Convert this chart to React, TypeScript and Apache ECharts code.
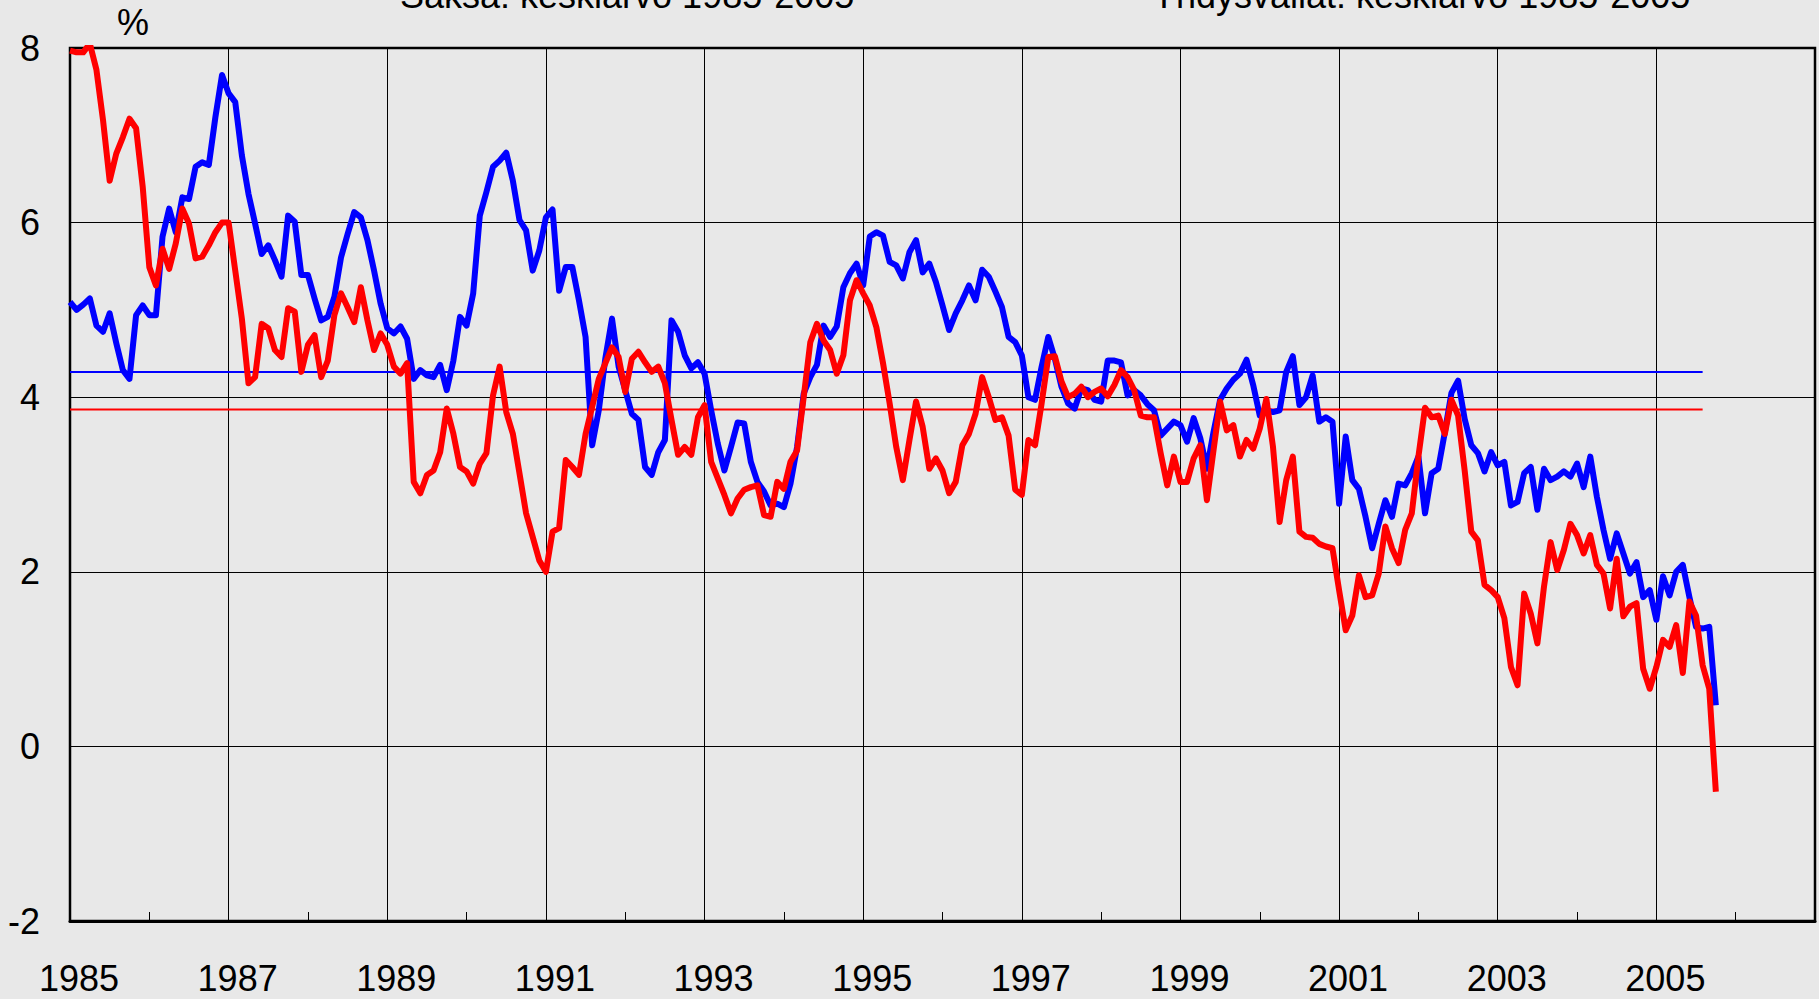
import React, { useEffect, useRef } from "react";
import * as echarts from "echarts";

// Monthly values, January 1985 = index 0
const startYear = 1985;
const germany = [
  5.09, 5.0, 5.06, 5.13, 4.82, 4.75, 4.96, 4.62, 4.31, 4.21, 4.94, 5.05,
  4.94, 4.94, 5.84, 6.16, 5.89, 6.29, 6.27, 6.64, 6.69, 6.66, 7.21, 7.69,
  7.48, 7.38, 6.77, 6.33, 5.99, 5.64, 5.74, 5.57, 5.38, 6.08, 6.01, 5.4,
  5.4, 5.13, 4.88, 4.92, 5.15, 5.6, 5.87, 6.12, 6.06, 5.8, 5.45, 5.07,
  4.79, 4.73, 4.81, 4.67, 4.21, 4.31, 4.25, 4.23, 4.37, 4.08, 4.42, 4.92,
  4.82, 5.19, 6.08, 6.35, 6.64, 6.71, 6.8, 6.48, 6.03, 5.91, 5.45, 5.68,
  6.06, 6.15, 5.22, 5.49, 5.49, 5.11, 4.69, 3.45, 3.85, 4.45, 4.9, 4.35,
  4.08, 3.81, 3.74, 3.2, 3.11, 3.37, 3.51, 4.88, 4.75, 4.48, 4.33, 4.4,
  4.27, 3.85, 3.47, 3.16, 3.43, 3.71, 3.7, 3.26, 3.03, 2.92, 2.76, 2.78,
  2.74, 3.01, 3.43, 4.04, 4.23, 4.37, 4.82, 4.69, 4.81, 5.26, 5.42, 5.53,
  5.28, 5.84, 5.89, 5.85, 5.55, 5.51, 5.36, 5.66, 5.8, 5.43, 5.53, 5.32,
  5.05, 4.77, 4.96, 5.11, 5.28, 5.11, 5.46, 5.38, 5.21, 5.03, 4.69, 4.63,
  4.48, 4.0, 3.97, 4.35, 4.69, 4.44, 4.12, 3.93, 3.87, 4.1, 4.08, 3.97,
  3.95, 4.42, 4.42, 4.4, 4.02, 4.08, 4.02, 3.92, 3.85, 3.56, 3.64, 3.72,
  3.68, 3.49, 3.76, 3.53, 3.18, 3.6, 3.97, 4.1, 4.2, 4.27, 4.43, 4.14,
  3.79, 3.85, 3.83, 3.85, 4.29, 4.47, 3.91, 4.0, 4.25, 3.72, 3.77, 3.72,
  2.78, 3.55, 3.05, 2.95, 2.63, 2.27, 2.55, 2.82, 2.63, 3.01, 2.99, 3.13,
  3.32, 2.67, 3.13, 3.18, 3.6, 4.05, 4.19, 3.75, 3.45, 3.36, 3.15, 3.37,
  3.22, 3.26, 2.76, 2.8, 3.13, 3.2, 2.71, 3.18, 3.05, 3.09, 3.15, 3.09,
  3.24, 2.97, 3.32, 2.86, 2.48, 2.15, 2.44, 2.21, 1.98, 2.11, 1.71, 1.79,
  1.45, 1.95, 1.73, 2.0, 2.08, 1.71, 1.37, 1.35, 1.37, 0.47,
];
const usa = [
  7.97, 7.95, 7.95, 8.05, 7.75, 7.17, 6.48, 6.79, 6.98, 7.19, 7.08, 6.41,
  5.49, 5.28, 5.7, 5.47, 5.76, 6.16, 5.99, 5.59, 5.61, 5.74, 5.89, 6.0,
  6.0, 5.45, 4.9, 4.16, 4.23, 4.84, 4.79, 4.54, 4.46, 5.02, 4.98, 4.29,
  4.6, 4.71, 4.23, 4.42, 4.94, 5.19, 5.03, 4.86, 5.26, 4.88, 4.54, 4.73,
  4.6, 4.35, 4.27, 4.39, 3.03, 2.9, 3.11, 3.16, 3.37, 3.87, 3.58, 3.2,
  3.15, 3.01, 3.24, 3.36, 4.02, 4.35, 3.83, 3.58, 3.13, 2.67, 2.4, 2.13,
  2.0, 2.46, 2.5, 3.28, 3.2, 3.11, 3.58, 3.89, 4.21, 4.39, 4.57, 4.46,
  4.06, 4.44, 4.52, 4.4, 4.29, 4.35, 4.16, 3.74, 3.34, 3.43, 3.34, 3.77,
  3.91, 3.26, 3.07, 2.88, 2.67, 2.84, 2.94, 2.97, 2.99, 2.65, 2.63, 3.03,
  2.95, 3.26, 3.39, 4.0, 4.63, 4.84, 4.65, 4.54, 4.27, 4.48, 5.11, 5.34,
  5.19, 5.05, 4.8, 4.39, 3.93, 3.43, 3.05, 3.51, 3.95, 3.66, 3.18, 3.3,
  3.16, 2.9, 3.03, 3.45, 3.58, 3.81, 4.23, 4.0, 3.74, 3.77, 3.56, 2.94,
  2.88, 3.51, 3.45, 3.93, 4.46, 4.47, 4.18, 4.0, 4.04, 4.12, 4.0, 4.06,
  4.1, 4.01, 4.14, 4.31, 4.23, 4.08, 3.79, 3.77, 3.77, 3.36, 2.99, 3.32,
  3.03, 3.03, 3.3, 3.45, 2.82, 3.39, 3.95, 3.62, 3.68, 3.32, 3.51, 3.41,
  3.64, 3.98, 3.43, 2.57, 3.05, 3.32, 2.46, 2.4, 2.39, 2.32, 2.29, 2.27,
  1.79, 1.33, 1.5, 1.96, 1.71, 1.73, 1.98, 2.52, 2.27, 2.1, 2.48, 2.67,
  3.32, 3.88, 3.77, 3.79, 3.58, 3.97, 3.79, 3.16, 2.46, 2.36, 1.85, 1.79,
  1.71, 1.47, 0.91, 0.7, 1.75, 1.52, 1.18, 1.83, 2.34, 2.02, 2.25, 2.55,
  2.42, 2.21, 2.42, 2.08, 1.98, 1.58, 2.15, 1.49, 1.6, 1.64, 0.89, 0.66,
  0.91, 1.22, 1.14, 1.39, 0.84, 1.66, 1.5, 0.93, 0.66, -0.52,
];
const germanyAvg = 4.29;
const usaAvg = 3.86;
const avgEndMonth = 247;
const titleGermany = "Saksa: keskiarvo 1985-2005";
const titleUsa = "Yhdysvallat: keskiarvo 1985-2005";
const unitLabel = "%";

const FONT = '"Liberation Sans", Arial, sans-serif';

export default function App() {
  const ref = useRef<HTMLDivElement>(null);
  useEffect(() => {
    if (!ref.current) return;
    const chart = echarts.init(ref.current, null, { renderer: "svg" });
    const toPairs = (arr: number[]) => arr.map((v, i) => [i, v]);
    chart.setOption({
      animation: false,
      backgroundColor: "#e8e8e8",
      textStyle: { fontFamily: FONT },
      grid: {
        left: 70,
        top: 48,
        right: 4,
        bottom: 78,
        show: true,
        borderColor: "#000",
        borderWidth: 2.5,
        backgroundColor: "transparent",
      },
      xAxis: [
        {
          type: "value",
          min: 0,
          max: 264,
          interval: 24,
          position: "bottom",
          axisLine: { show: true, onZero: false, lineStyle: { color: "#000", width: 3 } },
          axisTick: { show: false },
          splitLine: { show: true, lineStyle: { color: "#000", width: 1 } },
          axisLabel: {
            fontSize: 36,
            color: "#000",
            fontFamily: FONT,
            margin: 39,
            padding: [0, 0, 0, 18],
            formatter: (v: number) => (v >= 264 ? "" : String(startYear + v / 12)),
          },
        },
        {
          type: "value",
          min: 0,
          max: 264,
          interval: 12,
          position: "bottom",
          axisLine: { show: false, onZero: false },
          axisTick: { show: true, inside: true, length: 9, lineStyle: { color: "#000", width: 1 } },
          axisLabel: { show: false },
          splitLine: { show: false },
        },
      ],
      yAxis: {
        type: "value",
        min: -2,
        max: 8,
        interval: 2,
        axisLine: { show: true, lineStyle: { color: "#000", width: 2 } },
        axisTick: { show: true, inside: true, length: 8, lineStyle: { color: "#000" } },
        splitLine: { show: true, lineStyle: { color: "#000", width: 1 } },
        axisLabel: { fontSize: 36, color: "#000", fontFamily: FONT, margin: 30 },
      },
      series: [
        {
          type: "line",
          name: "avgGermany",
          data: [[0, germanyAvg], [avgEndMonth, germanyAvg]],
          showSymbol: false,
          symbol: "none",
          lineStyle: { color: "#0000ff", width: 2 },
          z: 2,
        },
        {
          type: "line",
          name: "avgUsa",
          data: [[0, usaAvg], [avgEndMonth, usaAvg]],
          showSymbol: false,
          symbol: "none",
          lineStyle: { color: "#ff0000", width: 2 },
          z: 2,
        },
        {
          type: "line",
          name: "Saksa",
          data: toPairs(germany),
          showSymbol: false,
          symbol: "none",
          lineStyle: { color: "#0000ff", width: 6, join: "round" },
          z: 3,
        },
        {
          type: "line",
          name: "Yhdysvallat",
          data: toPairs(usa),
          showSymbol: false,
          symbol: "none",
          lineStyle: { color: "#ff0000", width: 6, join: "round" },
          z: 4,
        },
      ],
      graphic: [
        {
          type: "text",
          x: 400,
          y: -5,
          style: { text: titleGermany, fill: "#000", font: `36px ${FONT}`, verticalAlign: "middle" },
        },
        {
          type: "text",
          x: 1152,
          y: -5,
          style: { text: titleUsa, fill: "#000", font: `36px ${FONT}`, verticalAlign: "middle" },
        },
        {
          type: "text",
          x: 133,
          y: 22,
          style: { text: unitLabel, fill: "#000", font: `36px ${FONT}`, align: "center", verticalAlign: "middle" },
        },
      ],
    });
    return () => chart.dispose();
  }, []);
  return (
    <div
      ref={ref}
      style={{ position: "absolute", left: 0, top: 0, width: 1819, height: 999, background: "#e8e8e8" }}
    />
  );
}
